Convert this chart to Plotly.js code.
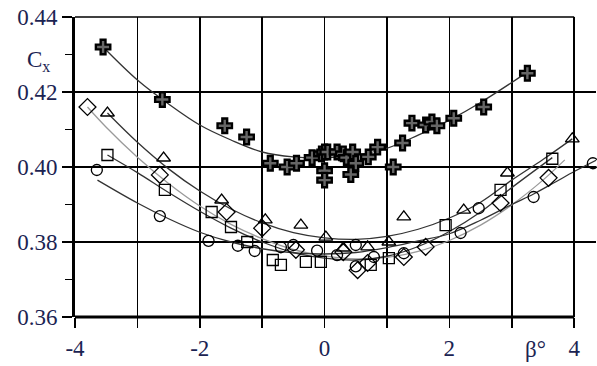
<!DOCTYPE html>
<html>
<head>
<meta charset="utf-8">
<script src="https://cdn.plot.ly/plotly-3.0.1.min.js"></script>
<style>html,body{margin:0;padding:0;background:#fff;}#chart{width:597px;height:366px;}</style>
</head>
<body>
<div id="chart"></div>
<script>
// ---- data ----
const crossX = [-3.55, -2.6, -1.6, -1.25, -0.87, -0.6, -0.45, -0.2, -0.05, 0.0, 0.0, 0.0, 0.05, 0.2, 0.3, 0.35, 0.45, 0.5, 0.42, 0.7, 0.85, 1.1, 1.25, 1.4, 1.62, 1.72, 1.8, 2.07, 2.55, 3.25];
const crossY = [0.432, 0.418, 0.411, 0.408, 0.401, 0.400, 0.401, 0.4025, 0.4035, 0.404, 0.399, 0.3965, 0.404, 0.404, 0.4035, 0.4025, 0.404, 0.401, 0.398, 0.4027, 0.4053, 0.400, 0.4064, 0.4117, 0.4112, 0.412, 0.411, 0.413, 0.416, 0.425];

const triX = [-3.48, -2.58, -1.65, -0.95, -0.38, 0.02, 0.3, 0.69, 1.03, 1.27, 2.23, 2.93, 3.97];
const triY = [0.4144, 0.4024, 0.3912, 0.3859, 0.3845, 0.3813, 0.3784, 0.3787, 0.380, 0.3867, 0.3885, 0.3984, 0.4075];

const diaX = [-3.8, -2.64, -1.57, -1.0, -0.46, 0.3, 0.53, 0.69, 1.27, 1.62, 2.82, 3.59];
const diaY = [0.416, 0.3979, 0.388, 0.3837, 0.3779, 0.3773, 0.3725, 0.3744, 0.376, 0.3787, 0.3904, 0.3971];

const sqX = [-3.48, -2.56, -1.81, -1.5, -1.24, -0.83, -0.7, -0.3, -0.06, 0.74, 1.03, 1.94, 2.82, 3.65];
const sqY = [0.4032, 0.3939, 0.388, 0.384, 0.380, 0.3752, 0.3739, 0.3747, 0.3747, 0.3739, 0.3757, 0.3845, 0.3939, 0.4022];

const cirX = [-3.65, -2.64, -1.86, -1.39, -1.12, -0.7, -0.5, -0.12, 0.2, 0.5, 0.5, 0.79, 1.27, 2.18, 2.47, 3.35, 4.3];
const cirY = [0.3992, 0.3869, 0.3803, 0.379, 0.3776, 0.3786, 0.3792, 0.3777, 0.3765, 0.3792, 0.3735, 0.376, 0.377, 0.3824, 0.389, 0.392, 0.401];

// fitted curves
const crossFitX = [-3.55, -3.0, -2.5, -2.0, -1.5, -1.0, -0.5, 0, 0.5, 1.0, 1.5, 2.0, 2.5, 3.25];
const crossFitY = [0.432, 0.4232, 0.4168, 0.4112, 0.4072, 0.4040, 0.4027, 0.4025, 0.4032, 0.4050, 0.4085, 0.4125, 0.4172, 0.4253];

const triFitX = [-3.48, -3, -2.5, -2, -1.5, -1, -0.5, 0, 0.5, 1, 1.5, 2, 2.5, 3, 3.5, 3.97];
const triFitY = [0.4144, 0.4066, 0.3995, 0.3936, 0.3888, 0.3851, 0.3825, 0.3811, 0.3807, 0.3815, 0.3834, 0.3864, 0.3906, 0.3965, 0.402, 0.4075];

const diaFitX = [-3.8, -3.5, -3, -2.5, -2, -1.5, -1, -0.5, 0, 0.5, 1, 1.5, 2, 2.5, 3, 3.5, 3.85];
const diaFitY = [0.416, 0.4106, 0.4026, 0.3956, 0.3896, 0.3847, 0.3809, 0.378, 0.3763, 0.3755, 0.3759, 0.3775, 0.3804, 0.3845, 0.3899, 0.3965, 0.4019];

const sqFitX = [-3.48, -3, -2.5, -2, -1.5, -1, -0.5, 0, 0.5, 1, 1.5, 2, 2.5, 3, 3.65];
const sqFitY = [0.4032, 0.3985, 0.3932, 0.3882, 0.3837, 0.3800, 0.3772, 0.3757, 0.3752, 0.3762, 0.3788, 0.3828, 0.388, 0.3945, 0.4025];

const cirFitX = [-3.64, -3, -2.5, -2, -1.5, -1, -0.5, 0, 0.5, 1, 1.5, 2, 2.5, 3, 3.35, 3.7, 4.0, 4.35];
const cirFitY = [0.3965, 0.3904, 0.3862, 0.3826, 0.3800, 0.3782, 0.3771, 0.3768, 0.3772, 0.3785, 0.3803, 0.3822, 0.3858, 0.3900, 0.3928, 0.396, 0.3988, 0.4018];

const xTickVals = [-4, -2, 0, 2, 4];
const xTickText = ['-4', '-2', '0', '2', '4'];
const yTickVals = [0.36, 0.38, 0.40, 0.42, 0.44];
const yTickText = ['0.36', '0.38', '0.40', '0.42', '0.44'];

// ---- chart ----
const txtColor = '#1b2352';
const serif = "'Liberation Serif', 'Times New Roman', Times, serif";

function fit(x, y, color) {
  return {x: x, y: y, mode: 'lines', type: 'scatter', hoverinfo: 'skip',
          line: {color: color, width: 1.3, shape: 'spline', smoothing: 1}};
}
function pts(x, y, symbol, size) {
  return {x: x, y: y, mode: 'markers', type: 'scatter', cliponaxis: false,
          marker: {symbol: symbol, size: size, color: '#000', line: {color: '#000', width: 1.3}}};
}

const traces = [
  fit(crossFitX, crossFitY, '#333'),
  fit(triFitX, triFitY, '#333'),
  fit(diaFitX, diaFitY, '#9a9a9a'),
  fit(sqFitX, sqFitY, '#333'),
  fit(cirFitX, cirFitY, '#333'),
  pts(triX, triY, 'triangle-up-open', 12),
  pts(diaX, diaY, 'diamond-open', 13),
  pts(sqX, sqY, 'square-open', 11),
  pts(cirX, cirY, 'circle-open', 11),
  {x: crossX, y: crossY, mode: 'markers', type: 'scatter', cliponaxis: false,
   marker: {symbol: 'cross', size: 12, color: '#666', line: {color: '#000', width: 2.4}}}
];

const xEnd = 4.35;
const frac4 = 8 / (xEnd + 4);

const layout = {
  width: 597, height: 366,
  margin: {l: 75, r: 1, t: 17, b: 49},
  paper_bgcolor: '#fff', plot_bgcolor: '#fff',
  showlegend: false,
  font: {family: serif, size: 23, color: txtColor},
  xaxis: {
    range: [-4, xEnd], tickmode: 'array', tickvals: xTickVals, ticktext: xTickText,
    ticks: 'outside', ticklen: 10, tickwidth: 1.5, tickcolor: '#000',
    showgrid: true, gridcolor: '#000', gridwidth: 1.5,
    minor: {dtick: 1, tick0: 0, ticks: 'outside', ticklen: 10, tickwidth: 1.5, tickcolor: '#000', showgrid: true, gridcolor: '#000', gridwidth: 1.5},
    showline: false, zeroline: false,
    tickfont: {family: serif, size: 23, color: txtColor}
  },
  yaxis: {
    range: [0.36, 0.44], tickmode: 'array', tickvals: yTickVals, ticktext: yTickText,
    ticks: 'outside', ticklen: 10, tickwidth: 1.5, tickcolor: '#000',
    showgrid: true, gridcolor: '#000', gridwidth: 1.5,
    minor: {dtick: 0.01, tick0: 0.36, ticks: 'outside', ticklen: 7, tickwidth: 1.5, tickcolor: '#000', showgrid: false},
    showline: true, linewidth: 3, linecolor: '#000', zeroline: false,
    tickfont: {family: serif, size: 23, color: txtColor}
  },
  shapes: [
    {type: 'line', xref: 'paper', yref: 'paper', x0: 0, x1: frac4, y0: 0, y1: 0, line: {color: '#000', width: 3}},
    {type: 'line', xref: 'paper', yref: 'paper', x0: 0, x1: frac4, y0: 1, y1: 1, line: {color: '#000', width: 1.5}},
    {type: 'line', xref: 'paper', yref: 'paper', x0: frac4, x1: frac4, y0: 0, y1: 1, line: {color: '#000', width: 1.5}}
  ],
  annotations: [
    {text: 'C<sub>x</sub>', xref: 'paper', yref: 'paper', x: -0.045, y: 0.855, xanchor: 'right', yanchor: 'middle',
     showarrow: false, font: {family: serif, size: 23, color: txtColor}},
    {text: 'β°', xref: 'x', yref: 'paper', x: 3.38, y: -0.06, xanchor: 'center', yanchor: 'top',
     showarrow: false, font: {family: serif, size: 23, color: txtColor}}
  ]
};

Plotly.newPlot('chart', traces, layout, {displayModeBar: false, staticPlot: true});
</script>
</body>
</html>
